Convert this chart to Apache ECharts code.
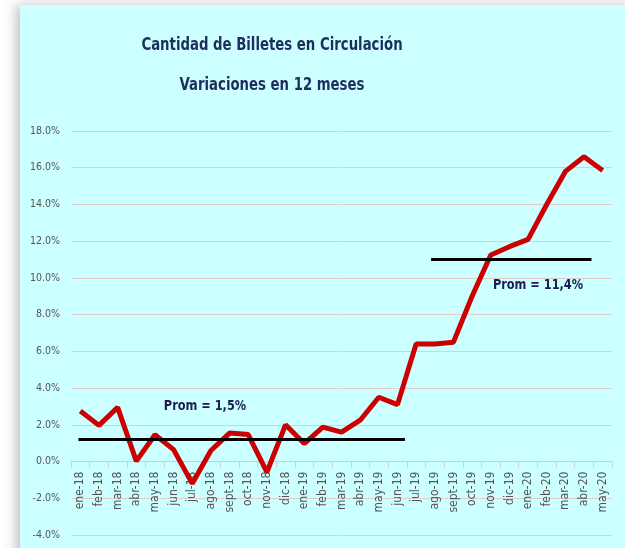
<!DOCTYPE html>
<html>
<head>
<meta charset="utf-8">
<script src="https://cdn.jsdelivr.net/npm/echarts@6/dist/echarts.min.js"></script>
<style>
  html, body { margin: 0; padding: 0; background: #fff; }
  #chart { width: 625px; height: 548px; }
</style>
</head>
<body>
<div id="chart"></div>
<script>
const months = ['ene-18', 'feb-18', 'mar-18', 'abr-18', 'may-18', 'jun-18', 'jul-18', 'ago-18', 'sept-18', 'oct-18', 'nov-18', 'dic-18',
  'ene-19', 'feb-19', 'mar-19', 'abr-19', 'may-19', 'jun-19', 'jul-19', 'ago-19', 'sept-19', 'oct-19', 'nov-19', 'dic-19',
  'ene-20', 'feb-20', 'mar-20', 'abr-20', 'may-20']
const variacion = [2.75, 1.97, 2.95, 0.02, 1.46, 0.65, -1.2, 0.6, 1.55, 1.47, -0.58, 2.0,
  0.98, 1.87, 1.6, 2.25, 3.5, 3.1, 6.4, 6.4, 6.5, 9.0, 11.25, 11.7,
  12.1, 14.0, 15.8, 16.6, 15.85]
// average lines: start / end as month index (fractional), drawn level
const promBajoX = [-0.1, 17.4]
const promBajoY = 1.2
const promAltoX = [18.8, 27.4]
const promAltoY = 11.0
const promBajoTexto = 'Prom = 1,5%'
const promAltoTexto = 'Prom = 11,4%'
const yMin = -4, yMax = 18

const font = '"Liberation Sans Narrow", "DejaVu Sans Condensed", "Open Sans", sans-serif'
const chart = echarts.init(document.getElementById('chart'))

const gridTop = 131, gridBottom = 13
const plotH = 548 - gridTop - gridBottom
// the category axis sits on 0%, labels follow it
const zeroOffset = -plotH * (0 - yMin) / (yMax - yMin)

const titleText = (text, y) => ({
  type: 'text', x: 272, y: y, scaleX: 0.82, scaleY: 1, silent: true,
  style: { text: text, font: 'bold 18px ' + font, fill: '#1f2d5c', align: 'center', verticalAlign: 'middle' }
})

const option = {
  backgroundColor: '#ffffff',
  animation: false,
  graphic: [
    {
      type: 'rect', z: -10, silent: true,
      shape: { x: 20, y: 5, width: 615, height: 560 },
      style: { fill: '#ccffff', shadowBlur: 12, shadowColor: 'rgba(0,0,0,0.25)', shadowOffsetX: -4 }
    },
    titleText('Cantidad de Billetes en Circulación', 45),
    titleText('Variaciones en 12 meses', 85),
    {
      type: 'text', x: 205, y: 406, scaleX: 0.9, silent: true,
      style: { text: promBajoTexto, font: 'bold 14px ' + font, fill: '#1c1c50', align: 'center', verticalAlign: 'middle' }
    },
    {
      type: 'text', x: 538, y: 285, scaleX: 0.9, silent: true,
      style: { text: promAltoTexto, font: 'bold 14px ' + font, fill: '#1c1c50', align: 'center', verticalAlign: 'middle' }
    }
  ],
  grid: { left: 71, right: 13, top: gridTop, bottom: gridBottom, containLabel: false, outerBoundsMode: 'none' },
  xAxis: [
    {
      type: 'category',
      data: months,
      boundaryGap: true,
      offset: zeroOffset,
      axisLine: { onZero: false, lineStyle: { color: '#cfcfcf', width: 1 } },
      axisTick: { show: true, interval: 0, length: 6, lineStyle: { color: '#cfcfcf' } },
      axisLabel: { interval: 0, rotate: 90, fontSize: 12, fontFamily: font, color: '#555555', margin: 10 }
    },
    {
      type: 'value',
      min: -0.5, max: months.length - 0.5,
      show: false
    }
  ],
  yAxis: {
    type: 'value',
    min: yMin, max: yMax, interval: 2,
    axisLine: { show: false },
    axisTick: { show: false },
    axisLabel: { formatter: v => v.toFixed(1) + '%', fontSize: 10.5, fontFamily: font, color: '#555555', margin: 11 },
    splitLine: { lineStyle: { color: '#e3cccc', width: 1 } }
  },
  series: [
    {
      type: 'line',
      data: variacion,
      symbol: 'none',
      lineStyle: { color: '#cc0000', width: 5 },
      z: 3
    },
    {
      type: 'line',
      xAxisIndex: 1,
      data: promBajoX.map(x => [x, promBajoY]),
      symbol: 'none',
      silent: true,
      lineStyle: { color: '#000000', width: 3 },
      z: 4
    },
    {
      type: 'line',
      xAxisIndex: 1,
      data: promAltoX.map(x => [x, promAltoY]),
      symbol: 'none',
      silent: true,
      lineStyle: { color: '#000000', width: 3 },
      z: 4
    }
  ]
}
chart.setOption(option)
</script>
</body>
</html>
